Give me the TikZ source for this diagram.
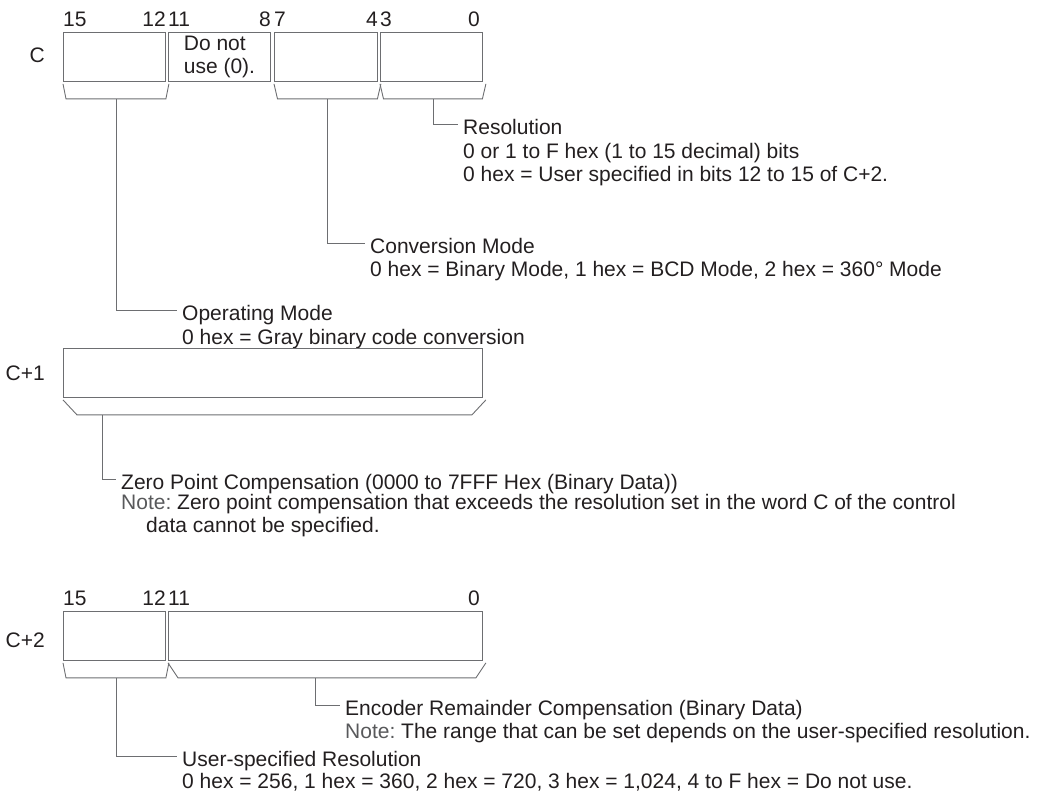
\documentclass[tikz,border=0pt]{standalone}
\usepackage{fontspec}
\setmainfont{Liberation Sans}
\usetikzlibrary{positioning,calc}

\definecolor{linegray}{HTML}{6D6E71}
\definecolor{inkgray}{HTML}{231F20}
\definecolor{notegray}{HTML}{58595B}

% bracket under a field: field, slant, stem coordinate, stem position
\newcommand{\fieldbrace}[4]{%
  \draw[lead] ([yshift=-2pt]#1.south west)
    -- ([xshift=#2pt,yshift=-17pt]#1.south west) coordinate (#3a)
    -- ([xshift=3pt-#2pt,yshift=-17pt]#1.south east) coordinate (#3b)
    -- ([xshift=3pt,yshift=-2pt]#1.south east);
  \coordinate (#3) at ($(#3a)!#4!(#3b)$);}
\newcommand{\notelbl}{\textcolor{notegray}{Note:}}

\begin{document}
\frenchspacing
\begin{tikzpicture}[x=1pt,y=-1pt,
  txt/.style={font=\fontsize{21}{23}\selectfont,text=inkgray,inner sep=0pt,align=left},
  fld/.style={txt,draw=linegray,line width=0.9pt,minimum height=49pt,anchor=north west},
  lead/.style={draw=linegray,line width=0.9pt},
  head/.style={txt,anchor=west,inner xsep=5pt,text height=20pt,text depth=0pt},
  desc/.style={txt,anchor=base west,inner xsep=5pt},
  bit/.style={txt}]
\useasboundingbox (0,0) rectangle (1043,796);

% word C
\node[fld,minimum width=102pt] (c1) at (63,32) {};
\node[fld,minimum width=102pt] (c2) at (168,32) {Do not\\use (0).};
\node[fld,minimum width=103pt] (c3) at (274,32) {};
\node[fld,minimum width=102pt] (c4) at (380,32) {};
\node[txt,anchor=east] (rc) at (45,55) {C};
\node[bit,anchor=base west] (b15) at ([yshift=5.5pt]c1.north west) {15};
\node[bit,anchor=base east] (b12) at ([yshift=5.5pt]c1.north east) {12};
\node[bit,anchor=base west] (b11) at ([yshift=5.5pt]c2.north west) {11};
\node[bit,anchor=base east] (b8) at ([yshift=5.5pt]c2.north east) {8};
\node[bit,anchor=base west] (b7) at ([yshift=5.5pt]c3.north west) {7};
\node[bit,anchor=base east] (b4) at ([yshift=5.5pt]c3.north east) {4};
\node[bit,anchor=base west] (b3) at ([yshift=5.5pt]c4.north west) {3};
\node[bit,anchor=base east] (b0) at ([yshift=5.5pt,xshift=-3pt]c4.north east) {0};

\fieldbrace{c1}{3}{s1}{0.5}
\fieldbrace{c3}{3.5}{s3}{0.5}
\fieldbrace{c4}{3.5}{s4}{0.5}

\node[head] (reso) at (458,124) {Resolution};
\node[desc] (resodesc) at ([yshift=-47pt]reso.base west)
  {0 or 1 to F hex (1 to 15 decimal) bits\\0 hex = User specified in bits 12 to 15 of C+2.};
\node[head] (convmode) at (365,243) {Conversion Mode};
\node[desc] (convdesc) at ([yshift=-23pt]convmode.base west)
  {0 hex = Binary Mode, 1 hex = BCD Mode, 2 hex = 360° Mode};
\node[head] (opmode) at (177,310) {Operating Mode};
\node[desc] (opdesc) at ([yshift=-24pt]opmode.base west)
  {0 hex = Gray binary code conversion};
\draw[lead] (s4) |- (reso.west);
\draw[lead] (s3) |- (convmode.west);
\draw[lead] (s1) |- (opmode.west);

% word C+1
\node[fld,minimum width=419pt] (d1) at (63,348) {};
\node[txt,anchor=east] (rc1) at (45,373) {C+1};
\fieldbrace{d1}{14}{s5}{0.065}
\node[head] (zeropt) at (116,479) {Zero Point Compensation (0000 to 7FFF Hex (Binary Data))};
\node[desc] (zerodesc) at ([yshift=-43pt]zeropt.base west)
  {\notelbl{} Zero point compensation that exceeds the resolution set in the word C of the control\\
   \hspace*{25pt}data cannot be specified.};
\draw[lead] (s5) |- (zeropt.west);

% word C+2
\node[fld,minimum width=102pt] (e1) at (63,611) {};
\node[fld,minimum width=314pt] (e2) at (168,611) {};
\node[txt,anchor=east] (rc2) at (45,640) {C+2};
\node[bit,anchor=base west] (e15) at ([yshift=5.5pt]e1.north west) {15};
\node[bit,anchor=base east] (e12) at ([yshift=5.5pt]e1.north east) {12};
\node[bit,anchor=base west] (e11) at ([yshift=5.5pt]e2.north west) {11};
\node[bit,anchor=base east] (e0) at ([yshift=5.5pt,xshift=-3pt]e2.north east) {0};
\fieldbrace{e1}{3}{s6}{0.5}
\fieldbrace{e2}{10}{s7}{0.46}

\node[head] (encrem) at (340,705) {Encoder Remainder Compensation (Binary Data)};
\node[desc] (encdesc) at ([yshift=-23pt]encrem.base west)
  {\notelbl{} The range that can be set depends on the user-specified resolution.};
\node[head] (userres) at (177,756) {User-specified Resolution};
\node[desc] (userdesc) at ([yshift=-22pt]userres.base west)
  {0 hex = 256, 1 hex = 360, 2 hex = 720, 3 hex = 1,024, 4 to F hex = Do not use.};
\draw[lead] (s7) |- (encrem.west);
\draw[lead] (s6) |- (userres.west);
\end{tikzpicture}
\end{document}
